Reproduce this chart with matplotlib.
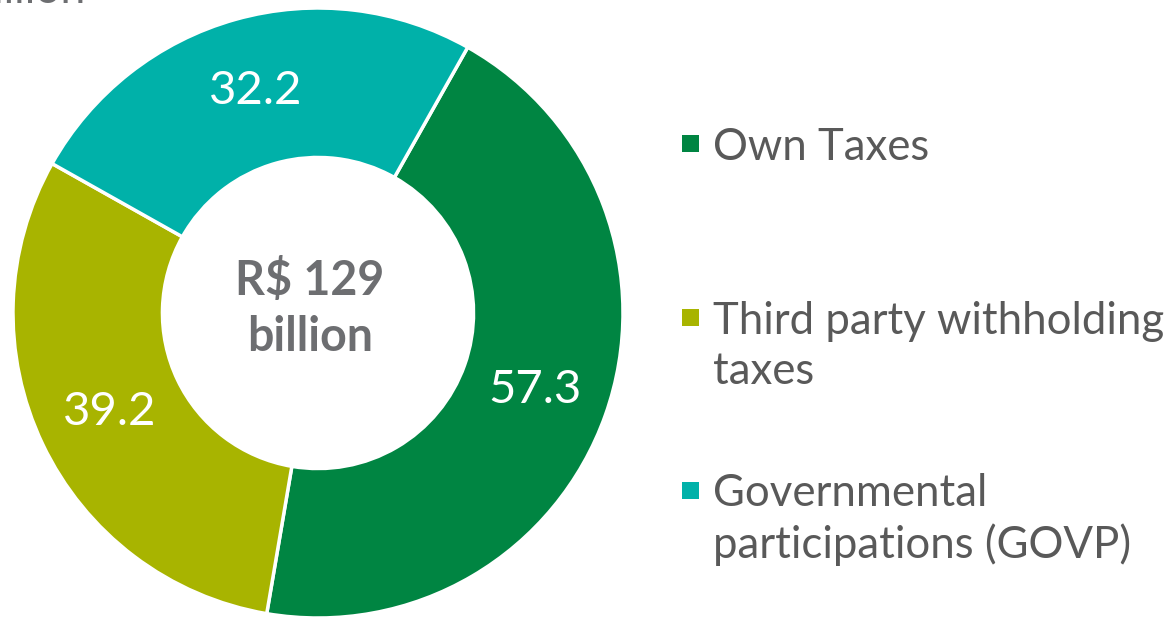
import matplotlib.pyplot as plt
from matplotlib.patches import Rectangle

categories = ["Own Taxes", "Third party withholding\ntaxes", "Governmental\nparticipations (GOVP)"]
values = [57.3, 39.2, 32.2]
colors = ["#008542", "#A8B400", "#00B1A9"]
total_label = "R$ 129\nbillion"
unit_label = "R$ billion"

W, H = 1170, 617
plt.rcParams["font.family"] = ["Lato", "DejaVu Sans"]


def main() -> None:
    fig = plt.figure(figsize=(W / 100, H / 100), dpi=100)

    # donut axes: centre at (318, 313) px from top-left, outer radius 305 px
    cx, cy, r_px = 318, 313, 305
    half = 310
    ax = fig.add_axes([(cx - half) / W, (H - cy - half) / H, 2 * half / W, 2 * half / H])
    total = sum(values)
    ax.pie(
        values,
        colors=colors,
        startangle=60.6,
        counterclock=False,
        radius=1.0,
        wedgeprops=dict(width=0.49, edgecolor="white", linewidth=2.5),
        autopct=lambda p: f"{p * total / 100:.1f}",
        pctdistance=0.755,
        textprops=dict(color="white", fontsize=34),
    )
    lim = half / r_px
    ax.set_xlim(-lim, lim)
    ax.set_ylim(-lim, lim)
    ax.set_aspect("equal")
    ax.axis("off")

    ax.text(-0.026, 0.015, total_label, ha="center", va="center", fontsize=33.5,
            fontweight="bold", color="#6D6E71", linespacing=1.35)

    # partially visible unit caption at the top-left edge
    fig.text(85 / W, 1 - 3 / H, unit_label, ha="right", va="baseline",
             fontsize=32, color="#6D6E71")

    # legend drawn in pixel coordinates, one text per line
    lg = fig.add_axes([0, 0, 1, 1])
    lg.set_xlim(0, W)
    lg.set_ylim(H, 0)
    lg.axis("off")
    line_y = [143, 317, 490]
    line_gap = 51
    for y, label, color in zip(line_y, categories, colors):
        lg.add_patch(Rectangle((682, y - 8), 17, 17, facecolor=color, edgecolor="none"))
        for i, part in enumerate(label.split("\n")):
            lg.text(713, y + i * line_gap, part, ha="left", va="center_baseline",
                    fontsize=31.5, color="#595959")

    fig.savefig("out.png", dpi=100)
    plt.close(fig)


if __name__ == "__main__":
    main()
